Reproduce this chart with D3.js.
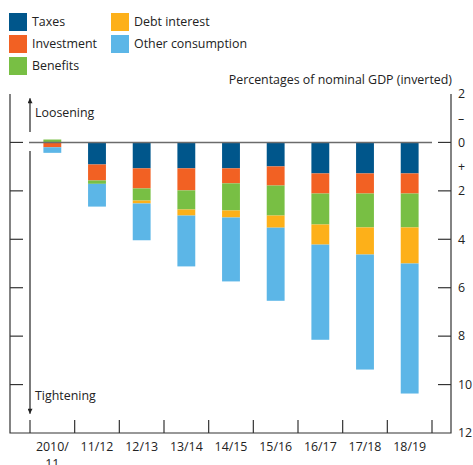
<!DOCTYPE html>
<html><head><meta charset="utf-8">
<script src="https://cdn.jsdelivr.net/npm/d3@7"></script>
<style>
html,body{margin:0;padding:0;background:#fff;}
text{font-family:"Open Sans",sans-serif;fill:#222;}
</style></head>
<body>
<svg id="chart" width="473" height="465"></svg>
<script>
const categories = ["2010/11","11/12","12/13","13/14","14/15","15/16","16/17","17/18","18/19"];
const seriesNames = ["Taxes","Investment","Benefits","Debt interest","Other consumption"];
const taxes       = [0.00, 0.91, 1.07, 1.07, 1.07, 0.99, 1.28, 1.28, 1.28];
const investment  = [0.20, 0.66, 0.83, 0.91, 0.62, 0.79, 0.83, 0.83, 0.83];
const benefits    = [-0.12, 0.14, 0.50, 0.79, 1.12, 1.24, 1.28, 1.40, 1.40];
const debtInterest= [0.00, 0.00, 0.12, 0.25, 0.29, 0.50, 0.83, 1.12, 1.49];
const otherCons   = [0.23, 0.94, 1.52, 2.10, 2.64, 3.02, 3.93, 4.75, 5.37];
const colors = ["#00568b","#f26123","#78bf44","#fdb019","#5cb6e7"];
const yTicks = [-2,0,2,4,6,8,10,12];
const yTickLabels = ["2","0","2","4","6","8","10","12"];
const signLabels = [{v:-1,t:"–"},{v:1,t:"+"}];

const svg = d3.select("#chart");
const pLeft = 10, pRight = 451, pTop = 94, pBottom = 433;
const fs = 12.4;
const y = d3.scaleLinear().domain([-2,12]).range([pTop,pBottom]);
const xb = d3.scaleBand().domain(categories).range([30,432]).paddingInner(0.6).paddingOuter(0.3);
const xe = d3.scaleBand().domain(categories).range([30,432]).padding(0);

const rows = categories.map((c,i)=>({cat:c,"Taxes":taxes[i],"Investment":investment[i],"Benefits":benefits[i],"Debt interest":debtInterest[i],"Other consumption":otherCons[i]}));
const stacked = d3.stack().keys(seriesNames).offset(d3.stackOffsetDiverging)(rows);

stacked.forEach((s,si)=>{
  svg.append("g").attr("fill",colors[si]).selectAll("rect").data(s).join("rect")
    .attr("x",d=>xb(d.data.cat)).attr("width",xb.bandwidth())
    .attr("y",d=>y(Math.min(d[0],d[1]))).attr("height",d=>Math.abs(y(d[1])-y(d[0])));
});

svg.append("line").attr("x1",29).attr("x2",432).attr("y1",y(0)).attr("y2",y(0))
  .attr("stroke","#6b6b6b").attr("stroke-width",1.6);

svg.append("path").attr("d",`M${pLeft},${pTop}V${pBottom}H${pRight}V${pTop}`)
  .attr("stroke","#333").attr("stroke-width",1.2).attr("fill","none");

const tickVals = yTicks.filter(v=>v>=0 && v<12);
svg.append("g").selectAll("line").data(tickVals).join("line")
  .attr("x1",pLeft).attr("x2",pLeft+13).attr("y1",d=>y(d)).attr("y2",d=>y(d))
  .attr("stroke","#333").attr("stroke-width",1.2);
svg.append("g").selectAll("line").data(tickVals).join("line")
  .attr("x1",pRight-13).attr("x2",pRight).attr("y1",d=>y(d)).attr("y2",d=>y(d))
  .attr("stroke","#333").attr("stroke-width",1.2);
svg.append("g").selectAll("text").data(yTicks).join("text")
  .attr("x",458).attr("y",d=>y(d)).attr("dy","0.35em").attr("font-size",fs)
  .text((d,i)=>yTickLabels[i]);
svg.append("g").selectAll("text").data(signLabels).join("text")
  .attr("x",458).attr("y",d=>y(d.v)).attr("dy","0.35em").attr("font-size",fs)
  .text(d=>d.t);

const bounds = categories.map(c=>xe(c)).concat([432]);
svg.append("g").selectAll("line").data(bounds).join("line")
  .attr("x1",d=>d).attr("x2",d=>d).attr("y1",pBottom-13).attr("y2",pBottom)
  .attr("stroke","#333").attr("stroke-width",1.2);
const xl = svg.append("g").selectAll("text").data(categories).join("text")
  .attr("x",d=>xe(d)+xe.bandwidth()/2).attr("y",451).attr("text-anchor","middle").attr("font-size",fs);
xl.each(function(d){
  const t = d3.select(this);
  const cx = xe(d)+xe.bandwidth()/2;
  if (d.indexOf("2010/")===0){
    t.append("tspan").attr("x",cx).text("2010/");
    t.append("tspan").attr("x",cx).attr("dy",17).text("11");
  } else t.text(d);
});

const ax = 30;
svg.append("defs").append("marker").attr("id","ah").attr("viewBox","0 0 10 10").attr("refX",10).attr("refY",5)
  .attr("markerWidth",8).attr("markerHeight",5).attr("markerUnits","userSpaceOnUse").attr("orient","auto")
  .append("path").attr("d","M0,0L10,5L0,10Z").attr("fill","#222");
svg.append("line").attr("x1",ax).attr("x2",ax).attr("y1",132).attr("y2",y(-1.82))
  .attr("stroke","#222").attr("stroke-width",1.2).attr("marker-end","url(#ah)");
svg.append("line").attr("x1",ax).attr("x2",ax).attr("y1",151).attr("y2",y(11.2))
  .attr("stroke","#222").attr("stroke-width",1.2).attr("marker-end","url(#ah)");
svg.append("text").attr("x",35).attr("y",113).attr("dy","0.35em").attr("font-size",fs).text("Loosening");
svg.append("text").attr("x",35).attr("y",396).attr("dy","0.35em").attr("font-size",fs).text("Tightening");

svg.append("text").attr("x",452).attr("y",80).attr("dy","0.35em").attr("text-anchor","end").attr("font-size",fs)
  .text("Percentages of nominal GDP (inverted)");

const legPos = [[9,13],[9,35],[9,57],[111,13],[111,35]];
const lg = svg.append("g").selectAll("g").data(seriesNames).join("g")
  .attr("transform",(d,i)=>`translate(${legPos[i][0]},${legPos[i][1]})`);
lg.append("rect").attr("width",18).attr("height",18).attr("fill",(d,i)=>colors[i]);
lg.append("text").attr("x",23).attr("y",9).attr("dy","0.35em").attr("font-size",fs).text(d=>d);
</script>
</body></html>
